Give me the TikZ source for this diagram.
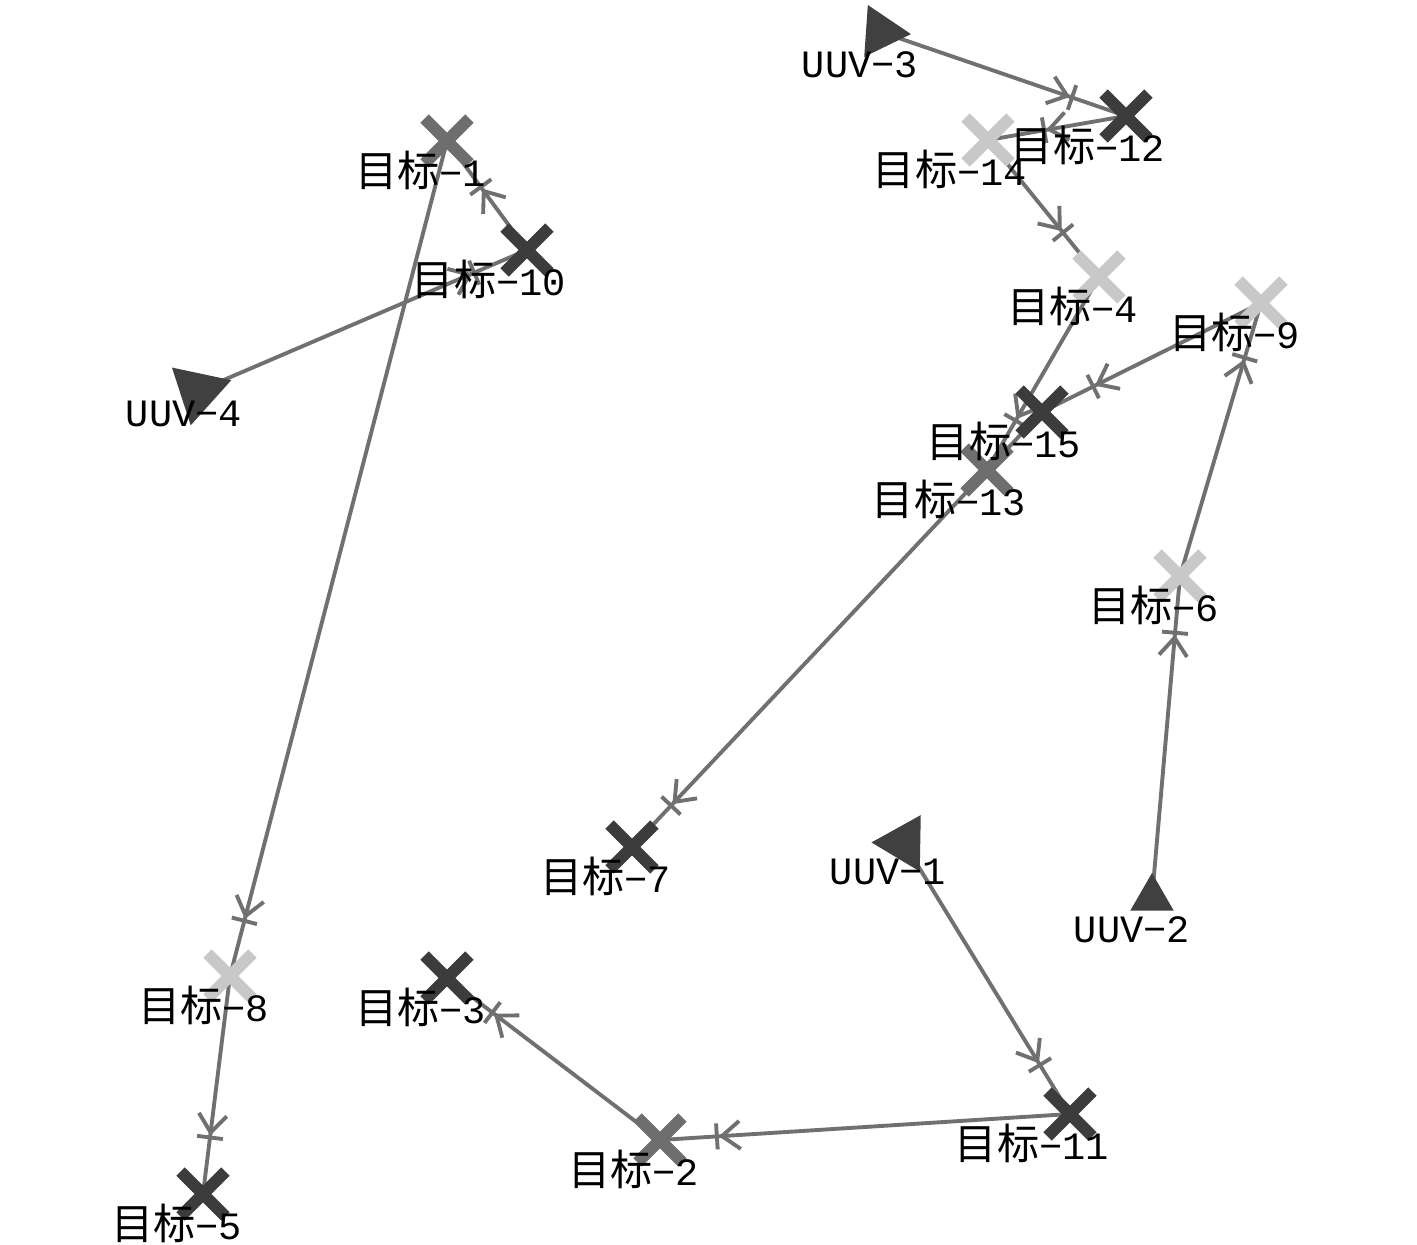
\documentclass[tikz,border=0pt]{standalone}
\usepackage{fontspec}
\setmainfont{Liberation Mono}
\newfontfamily\cjk{Noto Sans CJK SC}
\usetikzlibrary{arrows.meta,shapes.misc,shapes.geometric,decorations.markings,backgrounds}

\definecolor{tdark}{HTML}{3C3C3C}
\definecolor{tmid}{HTML}{6E6E6E}
\definecolor{tlight}{HTML}{C8C8C8}
\definecolor{routegray}{HTML}{707070}
\definecolor{uuvgray}{HTML}{404040}

% right-aligned label text, zero width
\newcommand{\rlbl}[1]{\makebox[0pt][r]{#1}}
\newcommand{\mubiao}[1]{\rlbl{{\cjk\fontsize{12}{14}\selectfont 目标}−#1}}

\begin{document}
\begin{tikzpicture}[
    x=0.01cm, y=-0.01cm,
    font=\fontsize{11}{13}\selectfont,
    lbl/.style={inner sep=0pt, xshift=3.9mm, yshift=-2.9mm},
    tgt/.style={
        cross out,
        draw=#1,
        line width=3.4pt,
        minimum size=3.3mm,
        inner sep=0pt
    },
    uuv/.style={
        regular polygon,
        regular polygon sides=3,
        fill=uuvgray,
        inner sep=0pt,
        minimum size=6mm
    },
    route/.style={
        draw=routegray,
        line width=1.1pt,
        postaction={decorate},
        decoration={markings,
            mark=at position -5.5mm with {\arrow[routegray]{Straight Barb[length=1.8mm,width=2.8mm,line width=1.1pt] Bar[width=2.6mm,line width=1.1pt]}}}
    }
]
% targets
\node[tgt=tmid,   label={[lbl]center:\mubiao{1}}]  (t1)  at (447,141)  {};
\node[tgt=tmid,   label={[lbl]center:\mubiao{2}}]  (t2)  at (660,1140) {};
\node[tgt=tdark,  label={[lbl]center:\mubiao{3}}]  (t3)  at (447,978)  {};
\node[tgt=tlight, label={[lbl]center:\mubiao{4}}]  (t4)  at (1099,277) {};
\node[tgt=tdark,  label={[lbl]center:\mubiao{5}}]  (t5)  at (203,1194) {};
\node[tgt=tlight, label={[lbl]center:\mubiao{6}}]  (t6)  at (1180,576) {};
\node[tgt=tdark,  label={[lbl]center:\mubiao{7}}]  (t7)  at (632,847)  {};
\node[tgt=tlight, label={[lbl]center:\mubiao{8}}]  (t8)  at (230,976)  {};
\node[tgt=tlight, label={[lbl]center:\mubiao{9}}]  (t9)  at (1261,303) {};
\node[tgt=tdark,  label={[lbl]center:\mubiao{10}}] (t10) at (527,250)  {};
\node[tgt=tdark,  label={[lbl]center:\mubiao{11}}] (t11) at (1070,1114) {};
\node[tgt=tdark,  label={[lbl]center:\mubiao{12}}] (t12) at (1126,116) {};
\node[tgt=tmid,   label={[lbl]center:\mubiao{13}}] (t13) at (987,470)  {};
\node[tgt=tlight, label={[lbl]center:\mubiao{14}}] (t14) at (988,140)  {};
\node[tgt=tdark,  label={[lbl]center:\mubiao{15}}] (t15) at (1042,412) {};

% UUVs
\node[uuv, shape border rotate=26, label={[lbl,xshift=-0.2mm,yshift=-0.4mm]center:\rlbl{UUV−3}}] (u3) at (881,32) {};
\node[uuv, shape border rotate=168, minimum size=7mm, label={[lbl,xshift=0.5mm,yshift=0.6mm]center:\rlbl{UUV−4}}] (u4) at (198,391) {};
\node[uuv, shape border rotate=-151, minimum size=6.5mm, label={[lbl,xshift=0.3mm]center:\rlbl{UUV−1}}] (u1) at (904,843) {};
\node[uuv, minimum size=5mm, label={[lbl,xshift=-0.1mm,yshift=-0.3mm]center:\rlbl{UUV−2}}] (u2) at (1152,898) {};

\begin{scope}[on background layer]
\fill[white] (0,0) rectangle (1417,1245);
\draw[route] (u1.center) -- (t11.center);
\draw[route] (t11.center) -- (t2.center);
\draw[route] (t2.center) -- (t3.center);
\draw[route] (u4.center) -- (t10.center);
\draw[route] (t10.center) -- (t1.center);
\draw[route] (t1.center) -- (t8.center);
\draw[route] (t8.center) -- (t5.center);
\draw[route] (u3.center) -- (t12.center);
\draw[route] (t12.center) -- (t14.center);
\draw[route] (t14.center) -- (t4.center);
\draw[route] (t4.center) -- (t13.center);
\draw[route] (u2.center) -- (t6.center);
\draw[route] (t6.center) -- (t9.center);
\draw[route] (t9.center) -- (t15.center);
\draw[route] (t15.center) -- (t7.center);
\end{scope}
\end{tikzpicture}
\end{document}
